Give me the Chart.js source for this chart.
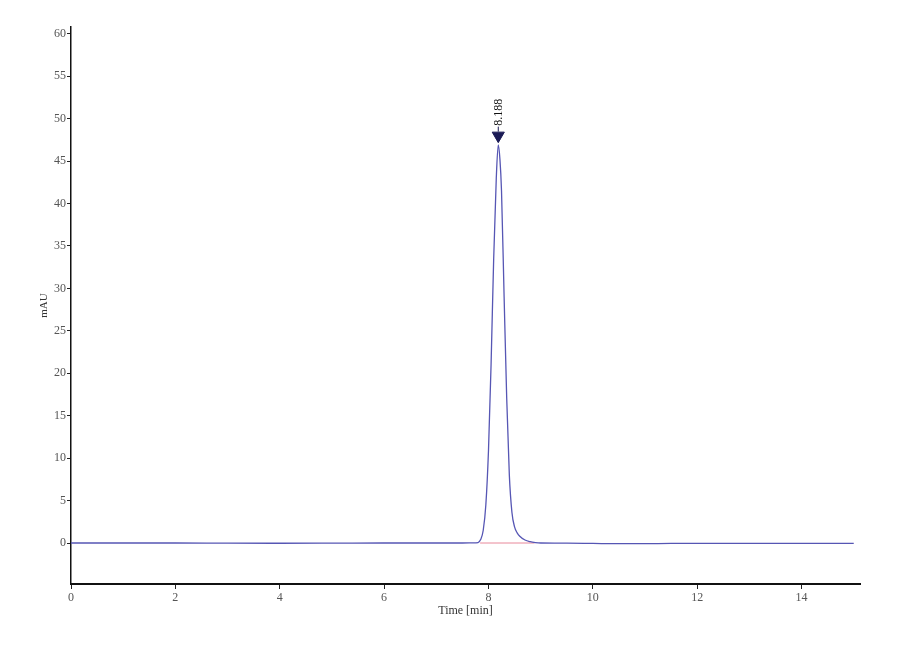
<!DOCTYPE html>
<html>
<head>
<meta charset="utf-8">
<script src="https://cdn.jsdelivr.net/npm/chart.js@4.4.0/dist/chart.umd.min.js"></script>
<style>
  html, body { margin: 0; padding: 0; background: #fff; }
</style>
</head>
<body>
<canvas id="chrom" width="900" height="660"></canvas>
<script>
// --- Trace data ---
const timeMin = [0, 1, 2, 3, 4, 5, 6, 7, 7.5, 7.7, 7.8, 7.85, 7.9, 7.95, 8.0, 8.05, 8.1, 8.15, 8.188,
  8.22, 8.25, 8.3, 8.35, 8.4, 8.45, 8.5, 8.55, 8.6, 8.7, 8.8, 8.9, 9.0, 9.5, 10, 10.5, 11, 11.5, 12, 13, 14, 15];
const signalMAU = [0, 0, 0, -0.02, -0.03, -0.02, 0, 0, 0, 0.01, 0.05, 0.4, 1.5, 4.5, 10.8, 21, 33.5, 43, 46.9,
  45.2, 41.5, 29, 17, 8, 3.6, 1.9, 1.2, 0.8, 0.35, 0.15, 0.05, 0, -0.02, -0.05, -0.08, -0.08, -0.05, -0.05, -0.05, -0.05, -0.05];

// integration baseline under the peak
const baseTime = [7.84, 8.88];
const baseValue = [0, 0];

// peak marker
const peakTime = 8.188;
const peakMarkerValue = 48.0;

const xTicks = [0, 2, 4, 6, 8, 10, 12, 14];
const yTicks = [0, 5, 10, 15, 20, 25, 30, 35, 40, 45, 50, 55, 60];

const serif = 'Liberation Serif';

// --- Peak label plugin ---
const peakLabel = {
  id: 'peakLabel',
  afterDatasetsDraw(chart) {
    const { ctx, scales } = chart;
    const px = scales.x.getPixelForValue(peakTime);
    const py = scales.y.getPixelForValue(peakMarkerValue);
    ctx.save();
    ctx.strokeStyle = '#1a1a55';
    ctx.lineWidth = 1;
    ctx.beginPath();
    ctx.moveTo(px, py - 9);
    ctx.lineTo(px, py - 4);
    ctx.stroke();
    ctx.translate(px + 0.5, py - 9);
    ctx.rotate(-Math.PI / 2);
    ctx.font = '12px "' + serif + '"';
    ctx.fillStyle = '#111';
    ctx.textAlign = 'left';
    ctx.textBaseline = 'middle';
    ctx.fillText(peakTime.toFixed(3), 1, 0);
    ctx.restore();
  }
};

const ctx = document.getElementById('chrom').getContext('2d');
new Chart(ctx, {
  type: 'line',
  data: {
    datasets: [
      {
        data: [{ x: peakTime, y: peakMarkerValue }],
        showLine: false,
        pointStyle: 'triangle',
        rotation: 180,
        pointRadius: 7,
        backgroundColor: '#1a1a55',
        borderColor: '#1a1a55',
        order: 0
      },
      {
        data: timeMin.map((t, i) => ({ x: t, y: signalMAU[i] })),
        borderColor: '#5656b4',
        borderWidth: 1.3,
        pointRadius: 0,
        cubicInterpolationMode: 'monotone',
        order: 1
      },
      {
        data: baseTime.map((t, i) => ({ x: t, y: baseValue[i] })),
        borderColor: '#e8889a',
        borderWidth: 1,
        pointRadius: 0,
        order: 2
      }
    ]
  },
  options: {
    responsive: false,
    animation: false,
    layout: { padding: { left: 0, right: 40, top: 27, bottom: 0 } },
    plugins: { legend: { display: false }, tooltip: { enabled: false } },
    scales: {
      x: {
        type: 'linear',
        min: 0,
        max: 15.12,
        afterFit: s => { s.height = 76; },
        afterBuildTicks: s => { s.ticks = xTicks.map(v => ({ value: v })); },
        ticks: { font: { family: serif, size: 12 }, color: '#555', padding: 2, maxRotation: 0, autoSkip: false },
        grid: { drawOnChartArea: false, drawTicks: true, tickLength: 5, tickColor: '#222', tickWidth: 1 },
        border: { color: '#111', width: 2 },
        title: { display: true, text: 'Time [min]', font: { family: serif, size: 12 }, color: '#333', padding: { top: 0, bottom: 42 } }
      },
      y: {
        min: -4.83,
        max: 60.8,
        afterFit: s => { s.width = 71; },
        afterBuildTicks: s => { s.ticks = yTicks.map(v => ({ value: v })); },
        ticks: { font: { family: serif, size: 12 }, color: '#555', padding: 1 },
        grid: { drawOnChartArea: false, drawTicks: true, tickLength: 4, tickColor: '#222', tickWidth: 1 },
        border: { color: '#111', width: 1.5 },
        title: { display: true, text: 'mAU', font: { family: serif, size: 11 }, color: '#333', padding: { top: 38, bottom: 0 } }
      }
    }
  },
  plugins: [peakLabel]
});
</script>
</body>
</html>
